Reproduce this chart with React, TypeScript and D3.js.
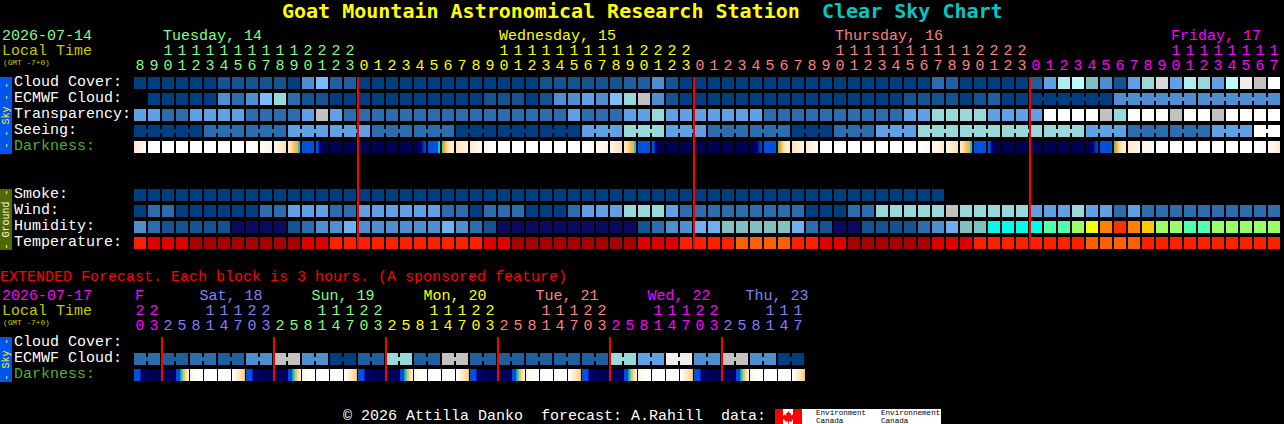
import * as d3 from 'd3'

const mono = '"Liberation Mono", monospace'
const titleFont = '"DejaVu Sans Mono", monospace'

// colour steps used by every block row
const levelColors = [
  '#003F7F', '#135390', '#1F5F9F', '#2C6DAD', '#4F8FCF', '#60A1E6', '#6FB0F0', '#7BBCFF',
  '#80C0C0', '#98D8D8', '#ADEEEE', '#BBFBFB', '#C2C2C2', '#D8D8D8', '#EEEEEE', '#FFFFFF',
  '#0A0A60', '#00FFE8', '#50FFB0', '#98FF68', '#EEFF10', '#FFC800', '#FF8000', '#FF3000',
  '#A80000', '#E00000', '#FF2000', '#FF5F00',
]

const skyLabels = ['Cloud Cover:', 'ECMWF Cloud:', 'Transparency:', 'Seeing:', 'Darkness:']
const groundLabels = ['Smoke:', 'Wind:', 'Humidity:', 'Temperature:']
const extLabels = ['Cloud Cover:', 'ECMWF Cloud:', 'Darkness:']

const hourLabels = [
  8, 9, 10, 11, 12, 13, 14, 15, 16, 17, 18, 19, 20, 21, 22, 23,
  0, 1, 2, 3, 4, 5, 6, 7, 8, 9, 10, 11, 12, 13, 14, 15, 16, 17, 18, 19, 20, 21, 22, 23,
  0, 1, 2, 3, 4, 5, 6, 7, 8, 9, 10, 11, 12, 13, 14, 15, 16, 17, 18, 19, 20, 21, 22, 23,
  0, 1, 2, 3, 4, 5, 6, 7, 8, 9, 10, 11, 12, 13, 14, 15, 16, 17,
]
const extHourLabels = [
  20, 23,
  2, 5, 8, 11, 14, 17, 20, 23,
  2, 5, 8, 11, 14, 17, 20, 23,
  2, 5, 8, 11, 14, 17, 20, 23,
  2, 5, 8, 11, 14, 17, 20, 23,
  2, 5, 8, 11, 14, 17, 20, 23,
  2, 5, 8, 11, 14, 17,
]

const dayLabels = [
  { col: 2, text: 'Tuesday, 14' },
  { col: 26, text: 'Wednesday, 15' },
  { col: 50, text: 'Thursday, 16' },
  { col: 74, text: 'Friday, 17' },
]
const extDayLabels = [
  { col: 0, text: 'F' },
  { col: 4.6, text: 'Sat, 18' },
  { col: 12.6, text: 'Sun, 19' },
  { col: 20.6, text: 'Mon, 20' },
  { col: 28.6, text: 'Tue, 21' },
  { col: 36.6, text: 'Wed, 22' },
  { col: 43.6, text: 'Thu, 23' },
]

const midnights = [16, 40, 64]
const extMidnights = [2, 10, 18, 26, 34, 42]
const dayColors = ['#80FF80', '#FFFF00', '#FF8080', '#FF00FF']
const extDayColors = ['#FF00FF', '#8080FF', '#80FF80', '#FFFF00', '#FF8080', '#FF00FF', '#8080FF']

const cloudCover = [
  0, 0, 0, 0, 0, 0, 1, 1, 1, 1, 1, 0, 4, 7, 2, 2,
  0, 0, 0, 0, 0, 0, 0, 0, 0, 0, 0, 0, 0, 1, 1, 1, 1, 1, 1, 2, 2, 4, 1, 0,
  0, 0, 0, 0, 0, 0, 0, 0, 0, 0, 0, 0, 0, 0, 0, 0, 0, 3, 2, 0, 0, 0, 0, 0,
  2, 5, 10, 11, 8, 4, 1, 5, 9, 13, 5, 10, 9, 5, 11, 14, 12, 15,
]
const ecmwfCloud = [
  null, 0, 0, 0, 0, 0, 4, 3, 4, 7, 9, 3, 1, 1, 0, 0,
  0, 0, 0, 0, 0, 0, 0, 0, 0, 1, 1, 1, 0, 1, 4, 4, 5, 4, 7, 9, 12, 4, 1, 0,
  0, 0, 0, 0, 0, 0, 0, 0, 0, 0, 0, 0, 0, 0, 0, 1, 1, 1, 1, 0, 1, 2, 0, 0,
  0, 0, 0, 0, 0, 0, 4, 4, 4, 4, 4, 4, 4, 4, 4, 4, 4, 4,
]
const transparency = [
  5, 5, 3, 3, 5, 5, 5, 5, 3, 3, 3, 3, 5, 12, 5, 3,
  3, 3, 3, 3, 3, 3, 3, 3, 3, 3, 3, 3, 3, 3, 3, 5, 3, 3, 3, 5, 5, 9, 5, 5,
  5, 5, 5, 5, 5, 3, 3, 3, 3, 3, 3, 3, 3, 3, 3, 5, 5, 9, 9, 9, 9, 5, 5, 5,
  5, 15, 15, 15, 15, 12, 9, 15, 15, 15, 12, 15, 15, 12, 15, 15, 15, 15,
]
const seeing = [
  0, 0, 0, 0, 0, 3, 3, 3, 3, 3, 3, 5, 5, 5, 5, 5,
  5, 3, 3, 3, 3, 3, 3, 0, 0, 0, 0, 0, 0, 0, 0, 0, 5, 5, 5, 9, 9, 9, 5, 5,
  5, 3, 3, 3, 3, 3, 3, 0, 0, 0, 3, 3, 3, 5, 5, 5, 9, 9, 9, 9, 9, 9, 9, 9,
  9, 9, 9, 9, 5, 5, 5, 3, 3, 3, 3, 3, 3, 5, 5, 5, 15, 15,
]
const smoke = [
  0, 0, 0, 0, 0, 0, 0, 0, 0, 0, 0, 0, 0, 0, 0, 0,
  0, 0, 0, 0, 0, 0, 0, 0, 0, 0, 0, 0, 0, 0, 0, 0, 0, 0, 0, 0, 0, 0, 0, 0,
  0, 0, 0, 0, 0, 0, 0, 0, 0, 0, 0, 0, 0, 0, 0, 0, 0, 0,
]
const wind = [
  0, 3, 3, 0, 0, 0, 0, 0, 0, 3, 3, 5, 5, 5, 3, 3,
  5, 5, 5, 5, 5, 5, 3, 3, 0, 3, 3, 3, 0, 0, 0, 3, 5, 5, 5, 9, 9, 9, 5, 3,
  3, 3, 3, 3, 3, 3, 3, 3, 0, 0, 0, 3, 3, 9, 9, 9, 9, 9, 12, 9, 9, 9, 9, 9,
  5, 5, 5, 9, 5, 5, 3, 5, 3, 3, 3, 3, 3, 3, 3, 3, 3, 3,
]
const humidity = [
  4, 3, 1, 1, 1, 1, 1, 16, 16, 16, 16, 1, 3, 4, 4, 6,
  4, 4, 4, 4, 4, 4, 6, 4, 3, 1, 16, 16, 16, 16, 16, 16, 16, 16, 16, 16, 1, 3, 4, 4,
  6, 6, 8, 8, 8, 8, 8, 6, 3, 1, 16, 16, 1, 1, 1, 1, 3, 4, 6, 8, 8, 17, 17, 17,
  17, 18, 18, 19, 20, 22, 23, 22, 21, 19, 19, 18, 18, 19, 19, 19, 19, 19,
]
const temperature = [
  26, 25, 25, 25, 24, 24, 24, 24, 24, 24, 24, 24, 25, 25, 26, 26,
  26, 26, 26, 26, 26, 26, 26, 26, 26, 25, 25, 24, 24, 24, 24, 24, 24, 24, 24, 24, 25, 25, 25, 26,
  26, 26, 26, 27, 27, 27, 27, 26, 26, 25, 25, 24, 24, 24, 24, 24, 24, 25, 25, 25, 26, 26, 26, 26,
  26, 26, 26, 26, 27, 27, 27, 27, 26, 26, 26, 26, 26, 26, 26, 26, 26, 26,
]
const extEcmwf = [
  3, 3, 2, 2, 3, 3, 2, 2, 4, 4, 12, 12, 4, 4, 0, 0, 2, 2, 9, 9, 2, 2, 12, 12,
  2, 2, 2, 2, 2, 2, 2, 2, 2, 2, 9, 9, 5, 5, 14, 14, 4, 4, 12, 12, 4, 4, 0, 0,
]

// darkness: each block runs through these values left to right
const darkDomain = [0, 1, 2, 3, 3.3, 3.6, 5, 6, 7]
const darkRange = ['#000050', '#00008A', '#0050D8', '#00C8F0', '#60D080', '#FFB030', '#FFE0B0', '#FFF4E8', '#FFFFFF']
const W = [7, 7]
const N = [0, 0]
const B = [2, 2]
const DUSK = [5.4, 5.2, 5, 4.8, 4.5, 4.2, 4, 3.8, 3.6, 3.6, 3, 3]
const DAWN = [3.3, 3.3, 3.6, 4, 4.4, 4.8, 5, 5.2, 5.4, 5.5, 5.6, 5.6]
const FALL = [2, 2, 1.6, 1.2, 0.8, 0.4, 0.2, 0.1, 0, 0, 0, 0]
const RISE = [0, 0, 0, 0, 0.2, 0.4, 0.6, 1, 1.4, 1.6, 1.8, 1.8]
const darkness = [
  [5.4, 6.5], [6.5, 7], W, W, W, W, W, W, [7, 6.6], [6.7, 6], [6.2, 5], DUSK, B, FALL, N, N,
  N, N, N, N, RISE, [2, 2, 2, 2, 2, 2, 2, 2, 2, 2, 3, 3], DAWN, [5.2, 6], [5.5, 6.3], [6.3, 7], W, W, W, W, W, W, [7, 6.5], [6.5, 6], [6, 5], DUSK, B, FALL, N, N,
  N, N, N, N, RISE, B, DAWN, [5.2, 6], [5.5, 6.5], [6.5, 7], W, W, W, W, W, W, [7, 6.3], [6.5, 5.5], [6, 5], DUSK, B, FALL, N, N,
  N, N, N, N, RISE, B, DAWN, [5.5, 6], [6, 6.5], [6.5, 7], W, W, W, W, W, W, [7, 6.3], [6.5, 5.5],
]
const E0 = [2, 2, 2, 2, 2, 2, 0.9, 0.7, 0.7, 0.4, 0.4, 0.4]
const E2 = [0, 0.4]
const E3 = [2, 2, 2, 2, 3, 3, 3.6, 4, 4.5, 5, 5.5, 5.8]
const E4 = [6, 7]
const E7 = [7, 6.6, 6.2, 6, 5.8, 5.6, 5.4, 5.2, 5, 4.8, 4.5, 4.3]
const extDarkness = [
  E0, N, E2, E3, E4, W, W, E7,
  E0, N, E2, E3, E4, W, W, E7,
  E0, N, E2, E3, E4, W, W, E7,
  E0, N, E2, E3, E4, W, W, E7,
  E0, N, E2, E3, E4, W, W, E7,
  E0, N, E2, E3, E4, W, W, E7,
]

// scales
const xMain = d3.scaleBand<number>(d3.range(82), [134, 1280]).paddingInner(2 / 14)
const xExt = d3.scaleBand<number>(d3.range(48), [134, 804]).paddingInner(2 / 14)
const ySky = d3.scaleBand(skyLabels, [77, 153]).paddingInner(4 / 16)
const yGround = d3.scaleBand(groundLabels, [189, 249]).paddingInner(4 / 16)
const yExt = d3.scaleBand(extLabels, [337, 381]).paddingInner(4 / 16)
const levelColor = d3.scaleOrdinal<number, string>(d3.range(levelColors.length), levelColors)
const darkColor = d3.scaleLinear<string>().domain(darkDomain).range(darkRange)
const dayColor = d3.scaleThreshold<number, string>().domain(midnights).range(dayColors)
const extDayColor = d3.scaleThreshold<number, string>().domain(extMidnights).range(extDayColors)

const Txt = ({ x, y, fill = '#fff', size = 15, children, ...rest }: any) => (
  <text x={x} y={y} fill={fill} fontSize={size} fontFamily={mono} xmlSpace="preserve" {...rest}>
    {children}
  </text>
)

function BlockRow({ values, x, y, h, joined }: any) {
  return (
    <g shapeRendering="crispEdges">
      {values.map((v: number | null, i: number) => {
        if (v === null) return null
        return <rect key={i} x={x(i)} y={y} width={x.bandwidth()} height={h} fill={levelColor(v)} />
      })}
      {joined.map((i: number) => (
        <rect key={'j' + i} x={x(i) + x.bandwidth()} y={y + 4} width={x.step() - x.bandwidth()} height={4} fill={levelColor(values[i])} />
      ))}
    </g>
  )
}

function DarkRow({ values, x, y, h }: any) {
  const px = d3.range(x.bandwidth())
  return (
    <g shapeRendering="crispEdges">
      {values.map((stops: number[], i: number) => {
        const inBlock = d3.scaleLinear()
          .domain(stops.map((_, k) => (k / (stops.length - 1)) * (px.length - 1)))
          .range(stops)
        return px.map(p => (
          <rect key={i + '-' + p} x={x(i) + p} y={y} width={1} height={h} fill={darkColor(inBlock(p))} />
        ))
      })}
    </g>
  )
}

function Hours({ hours, x, color, tensY, unitsY }: any) {
  return (
    <g textAnchor="middle">
      {hours.map((h: number, i: number) => {
        const c = x(i) + x.bandwidth() / 2
        return (
          <g key={i} fill={color(i)} fontSize={15} fontFamily={mono}>
            {h >= 10 && <text x={c} y={tensY}>{Math.floor(h / 10)}</text>}
            <text x={c} y={unitsY}>{h % 10}</text>
          </g>
        )
      })}
    </g>
  )
}

function SideBar({ y, h, fill, text, color }: any) {
  const cy = y + h / 2
  return (
    <g>
      <rect x={0} y={y} width={12} height={h} fill={fill} shapeRendering="crispEdges" />
      <text transform={`translate(9,${cy}) rotate(-90)`} textAnchor="middle" fill={color} fontSize={10} fontFamily={mono} xmlSpace="preserve">
        {text}
      </text>
    </g>
  )
}

export default function App() {
  const rowH = ySky.bandwidth()
  // blocks that come from one forecast step are tied together
  const seeingJoins = d3.range(81).filter(i => (i - 2) % 3 !== 2)
  const ecmwfJoins = [...d3.range(64, 69), ...d3.range(70, 75), ...d3.range(76, 81)]
  const extJoins = d3.range(0, 48, 2)

  return (
    <svg width={1284} height={424} style={{ position: 'fixed', left: 0, top: 0, background: '#000', display: 'block' }}>
      <text x={282} y={18} fill="#FFFF00" fontSize={20} fontWeight="bold" fontFamily={titleFont}>Goat Mountain Astronomical Research Station</text>
      <text x={822} y={18} fill="#00C8C8" fontSize={20} fontWeight="bold" fontFamily={titleFont}>Clear Sky Chart</text>

      <Txt x={2} y={40} fill="#80FF80">2026-07-14</Txt>
      <Txt x={2} y={55} fill="#C8C800">Local Time</Txt>
      <Txt x={3} y={65} fill="#C8C800" size={7.8}>(GMT -7+0)</Txt>
      {dayLabels.map(d => (
        <Txt key={d.col} x={(xMain(d.col) as number) + 1} y={40} fill={dayColor(d.col)}>{d.text}</Txt>
      ))}
      <Hours hours={hourLabels} x={xMain} color={dayColor} tensY={55} unitsY={70} />

      <SideBar y={77} h={77} fill="#0055EE" color="#FFFF00" text="- - Sky - -" />
      {skyLabels.map(l => (
        <Txt key={l} x={14} y={(ySky(l) as number) + 9} fill={l === 'Darkness:' ? '#50B030' : '#fff'}>{l}</Txt>
      ))}
      <BlockRow values={cloudCover} x={xMain} y={ySky('Cloud Cover:')} h={rowH} joined={[]} />
      <BlockRow values={ecmwfCloud} x={xMain} y={ySky('ECMWF Cloud:')} h={rowH} joined={ecmwfJoins} />
      <BlockRow values={transparency} x={xMain} y={ySky('Transparency:')} h={rowH} joined={[]} />
      <BlockRow values={seeing} x={xMain} y={ySky('Seeing:')} h={rowH} joined={seeingJoins} />
      <DarkRow values={darkness} x={xMain} y={ySky('Darkness:')} h={rowH} />

      <SideBar y={189} h={61} fill="#4F6800" color="#FFFFE0" text="- Ground -" />
      {groundLabels.map(l => (
        <Txt key={l} x={14} y={(yGround(l) as number) + 9}>{l}</Txt>
      ))}
      <BlockRow values={smoke} x={xMain} y={yGround('Smoke:')} h={rowH} joined={[]} />
      <BlockRow values={wind} x={xMain} y={yGround('Wind:')} h={rowH} joined={[]} />
      <BlockRow values={humidity} x={xMain} y={yGround('Humidity:')} h={rowH} joined={[]} />
      <BlockRow values={temperature} x={xMain} y={yGround('Temperature:')} h={rowH} joined={[]} />

      {midnights.map(c => (
        <rect key={c} x={(xMain(c) as number) - 1} y={77} width={2} height={172} fill="#FF0000" shapeRendering="crispEdges" />
      ))}

      <Txt x={0} y={281} fill="#FF0000">EXTENDED Forecast. Each block is 3 hours. (A sponsored feature)</Txt>
      <Txt x={2} y={300} fill="#FF00FF">2026-07-17</Txt>
      <Txt x={2} y={315} fill="#C8C800">Local Time</Txt>
      <Txt x={3} y={325} fill="#C8C800" size={7.8}>(GMT -7+0)</Txt>
      {extDayLabels.map((d, i) => (
        <Txt key={d.text} x={134 + d.col * xExt.step() + 1} y={300} fill={extDayColors[i]}>{d.text}</Txt>
      ))}
      <Hours hours={extHourLabels} x={xExt} color={extDayColor} tensY={315} unitsY={330} />

      <SideBar y={337} h={45} fill="#0055EE" color="#FFFF00" text="- Sky -" />
      {extLabels.map(l => (
        <Txt key={l} x={14} y={(yExt(l) as number) + 9} fill={l === 'Darkness:' ? '#50B030' : '#fff'}>{l}</Txt>
      ))}
      <BlockRow values={extEcmwf} x={xExt} y={yExt('ECMWF Cloud:')} h={rowH} joined={extJoins} />
      <DarkRow values={extDarkness} x={xExt} y={yExt('Darkness:')} h={rowH} />
      {extMidnights.map(c => (
        <rect key={c} x={(xExt(c) as number) - 1} y={337} width={2} height={44} fill="#FF0000" shapeRendering="crispEdges" />
      ))}

      <Txt x={343} y={420}>{'© 2026 Attilla Danko  forecast: A.Rahill  data:'}</Txt>

      {/* Environment Canada logo */}
      <g>
        <rect x={775} y={409} width={166} height={15} fill="#fff" shapeRendering="crispEdges" />
        <rect x={775} y={409} width={8} height={15} fill="#FF0000" shapeRendering="crispEdges" />
        <rect x={793} y={409} width={9} height={15} fill="#FF0000" shapeRendering="crispEdges" />
        <path
          d="M788.5 411 l1.5 2.5 1.2-.6-.6 3 1.8-1.6.6 1.3 1.8-.3-.7 2.2.8.5-3.2 2.4.4 1.3-3-.4v2.2h-1.2v-2.2l-3 .4.4-1.3-3.2-2.4.8-.5-.7-2.2 1.8.3.6-1.3 1.8 1.6-.6-3 1.2.6z"
          fill="#FF0000"
        />
        <g fill="#000" fontSize={7.6} fontFamily={mono}>
          <text x={816} y={415}>Environment</text>
          <text x={816} y={423}>Canada</text>
          <text x={881} y={415}>Environnement</text>
          <text x={881} y={423}>Canada</text>
        </g>
      </g>
    </svg>
  )
}
